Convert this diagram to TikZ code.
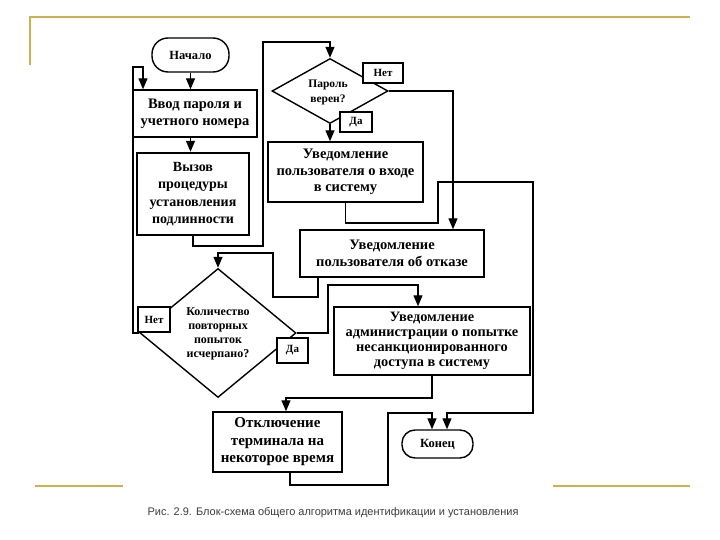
\documentclass[tikz,border=0pt]{standalone}
\usepackage{fontspec}
\setmainfont{Liberation Serif}
\newfontfamily\capfont{Liberation Sans}
\usetikzlibrary{shapes.geometric,arrows.meta}
\definecolor{gold}{RGB}{206,176,80}
\definecolor{capgray}{RGB}{60,60,60}
\tikzset{
  box/.style={draw, line width=1.4pt, inner sep=0pt, align=center, fill=white,
    font=\fontsize{14.5}{17}\selectfont\bfseries},
  term/.style={box, rounded corners=13pt, font=\fontsize{12.5}{15}\selectfont\bfseries},
  dia/.style={draw, line width=1.4pt, shape=diamond, inner sep=0pt},
  dtext/.style={align=center, inner sep=0pt, font=\fontsize{11.5}{15}\selectfont\bfseries},
  tag/.style={draw, line width=1.3pt, fill=white, inner sep=0pt,
    font=\fontsize{11}{13}\selectfont\bfseries},
  arr/.style={line width=1.3pt, -{Triangle[width=9pt,length=11pt]}},
  goldline/.style={draw=gold, line width=2.5pt}
}
\begin{document}
\begin{tikzpicture}[x=1pt,y=-1pt]
\useasboundingbox[fill=white] (0,0) rectangle (720,540);
% slide decoration
\draw[goldline] (30,65) -- (30,17) -- (690,17);
\draw[goldline] (35,486) -- (123,486);
\draw[goldline] (553,486) -- (690,486);
% nodes
\node[term, minimum width=77pt, minimum height=34pt, rounded corners=16pt] (start) at (190.5,55) {Начало};
\node[box, minimum width=124pt, minimum height=47pt] (inp) at (195,113.5) {Ввод пароля и\\учетного номера};
\node[box, line width=2.4pt, minimum width=112pt, minimum height=82pt, font=\fontsize{14}{17.5}\selectfont\bfseries] (call) at (193,194) {Вызов\\процедуры\\установления\\подлинности};
\node[dia, minimum width=116pt, minimum height=65pt] (pass) at (330,91) {};
\node[dtext] (passt) at (328,92) {Пароль\\верен?};
\node[tag, minimum width=40pt, minimum height=20pt] (no1) at (383,73) {Нет};
\node[tag, minimum width=32pt, minimum height=20pt] (yes1) at (356,122) {Да};
\node[box, minimum width=155pt, minimum height=60pt, font=\fontsize{14.5}{16.5}\selectfont\bfseries] (ent) at (345.5,172) {Уведомление\\пользователя о входе\\в систему};
\node[box, minimum width=184pt, minimum height=47pt] (ref) at (392,253.5) {Уведомление\\пользователя об отказе};
\node[dia, minimum width=156pt, minimum height=129pt] (cnt) at (218,333) {};
\node[dtext, font=\fontsize{12}{14}\selectfont\bfseries] (cntt) at (218,334) {Количество\\повторных\\попыток\\исчерпано?};
\node[tag, minimum width=32pt, minimum height=25pt] (no2) at (154,319.5) {Нет};
\node[tag, minimum width=31pt, minimum height=25pt] (yes2) at (292.5,350.5) {Да};
\node[box, minimum width=196pt, minimum height=68pt, font=\fontsize{14.3}{15}\selectfont\bfseries] (adm) at (432,341) {Уведомление\\администрации о попытке\\несанкционированного\\доступа в систему};
\node[box, minimum width=129pt, minimum height=60pt, font=\fontsize{15}{17.5}\selectfont\bfseries] (off) at (277.5,442) {Отключение\\терминала на\\некоторое время};
\node[term, minimum width=71pt, minimum height=28pt] (end) at (437.5,444) {Конец};
% helper coordinates
\coordinate (l1) at (263,246);
\coordinate (l2) at (263,42);
\coordinate (r1) at (453,0);
\coordinate (e1) at (438,223);
\coordinate (e2) at (533,182);
\coordinate (e3) at (447,413);
\coordinate (f0) at (318,0);
\coordinate (f1) at (273,297);
\coordinate (f2) at (273,253);
\coordinate (n1) at (133,0);
\coordinate (n2) at (143,67);
\coordinate (a1) at (328,285);
\coordinate (a2) at (418,285);
\coordinate (o2) at (286,398);
\coordinate (k0) at (290,485);
\coordinate (k1) at (388,413);
\coordinate (k2) at (432,413);
% connectors
\draw[arr] (start.south) -- (start.south |- inp.north);
\draw[arr] (start.south |- inp.south) -- (start.south |- call.north);
\draw[arr] (call.south) |- (l1) -- (l2) -| (pass.north);
\draw[arr] (pass.east) -| (r1 |- ref.north);
\draw[arr] (pass.south) -- (pass.south |- ent.north);
\draw[arr] (ent.south) |- (e1) |- (e2) |- (e3) -- (e3 |- end.north);
\draw[arr] (f0 |- ref.south) |- (f1) -- (f2) -| (cnt.north);
\draw[arr] (cnt.west) -- (cnt.west -| n1) |- (n2) -- (n2 |- inp.north);
\draw[arr] (cnt.east) -| (a1) -- (a2) -- (a2 |- adm.north);
\draw[arr] (adm.south) |- (o2) -- (o2 |- off.north);
\draw[arr] (k0 |- off.south) -- (k0) -| (k1) -- (k2) -- (k2 |- end.north);
% redraw tags on top
\node[tag, minimum width=40pt, minimum height=20pt] at (no1) {Нет};
\node[tag, minimum width=32pt, minimum height=20pt] at (yes1) {Да};
\node[tag, minimum width=32pt, minimum height=25pt] at (no2) {Нет};
\node[tag, minimum width=31pt, minimum height=25pt] at (yes2) {Да};
% caption
\node[font=\capfont\fontsize{11}{12}\selectfont, text=capgray, inner sep=0pt] (cap) at (333,513) {Рис. 2.9. Блок-схема общего алгоритма идентификации и установления};
\end{tikzpicture}
\end{document}
